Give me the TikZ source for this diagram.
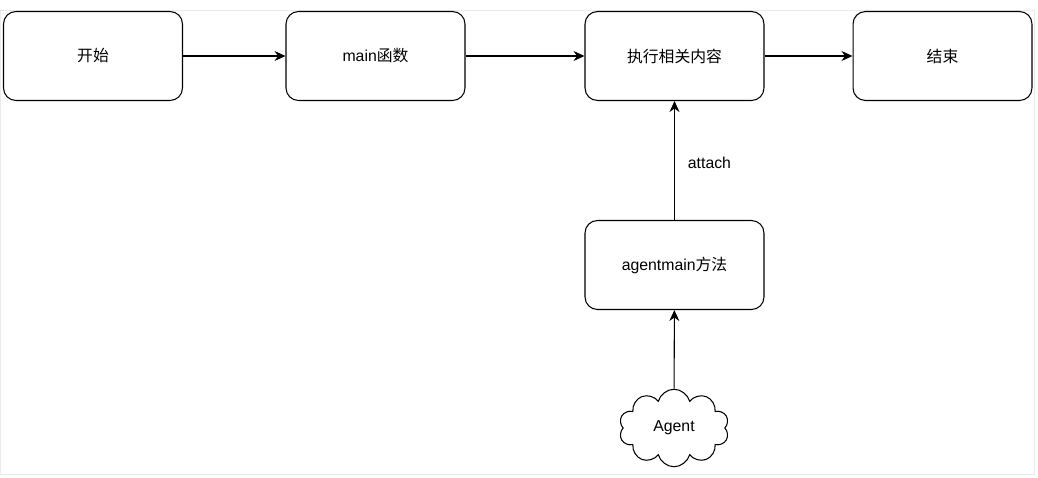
\documentclass[tikz,border=0pt]{standalone}
\usepackage{fontspec}
\setmainfont{Liberation Sans}
\newfontfamily\cjk{Noto Sans CJK SC}
\usetikzlibrary{shapes.symbols,arrows.meta}
\begin{document}
\begin{tikzpicture}
  [ x=0.02cm, y=-0.02cm,
    box/.style={draw=black, rounded corners=2.5mm, minimum width=3.58cm,
    minimum height=1.78cm, inner sep=0pt, line width=0.6pt},
    ln/.style={draw=black, line width=0.6pt, -{Stealth[length=2.2mm,width=2mm]}},
    every node/.style={font=\fontsize{9}{11}\selectfont}
  ]
  \useasboundingbox (0,0) rectangle (1038,477);
  \draw [black!8] (0,10) rectangle (1034,474);
  \node (start) at ( 93,56) [box] {\cjk 开始};
  \node (mainf) at (375.5,56) [box] {main{\cjk 函数}};
  \node (exec)  at (674.5,56) [box] {\cjk 执行相关内容};
  \node (stop)  at (942.5,56) [box] {\cjk 结束};
  \node (amain) at (674.5,265) [box] {agentmain{\cjk 方法}};
  \node (agent) at (674,428) [draw=black, cloud, cloud puffs=10, aspect=1.4,
    minimum width=2.2cm, minimum height=1.55cm, line width=0.6pt] {Agent};

  \draw [ln] (start) -- (mainf);
  \draw [ln] (mainf) -- (exec);
  \draw [ln] (exec) -- (stop);
  \draw [ln] (amain) -- node [right=4pt, pos=0.48] {attach} (exec);
  \draw [ln] (agent) -- (amain);
\end{tikzpicture}
\end{document}
